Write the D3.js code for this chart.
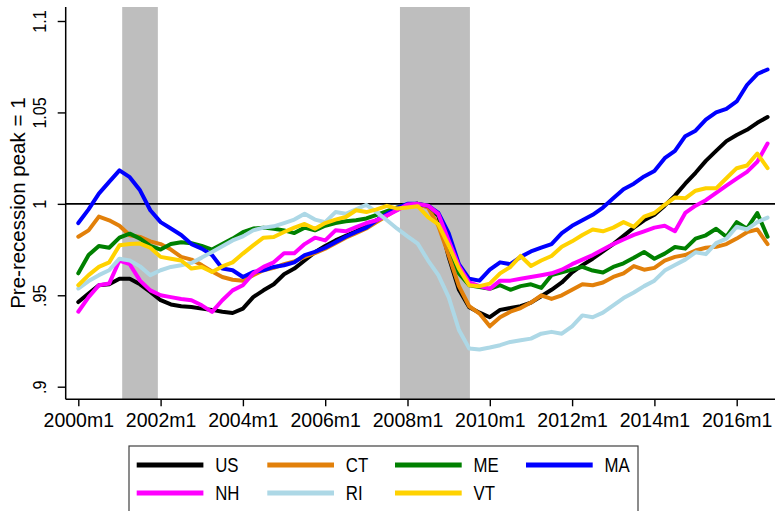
<!DOCTYPE html>
<html>
<head>
<meta charset="utf-8">
<script src="https://cdn.jsdelivr.net/npm/d3@7"></script>
<style>
  body { margin: 0; background: #fff; }
  svg { display: block; }
  text { font-family: "Liberation Sans", Arial, Helvetica, sans-serif; fill: #000; }
</style>
</head>
<body>
<svg id="chart" width="775" height="511"></svg>
<script>
// Employment relative to the pre-recession peak, sampled every 3 months from 2000m1 (index 0) to 2016m10.
const monthStep = 3;

const us = [0.9463,0.951,0.9555,0.956,0.959,0.959,0.956,0.9518,0.9473,0.945,0.944,
  0.9436,0.9427,0.942,0.941,0.9403,0.9427,0.949,0.9527,0.956,0.9615,0.9646,0.969,
  0.9735,0.977,0.980,0.9825,0.985,0.988,0.991,0.994,0.997,0.9995,1.0,0.9985,
  0.9935,0.971,0.953,0.9435,0.9405,0.938,0.942,0.943,0.944,0.946,0.9495,0.953,
  0.957,0.9625,0.9665,0.970,0.974,0.978,0.9825,0.987,0.991,0.994,0.999,1.0045,
  1.011,1.017,1.0235,1.029,1.0343,1.0377,1.0405,1.0443,1.0475];

const ct = [0.982,0.9855,0.993,0.991,0.988,0.9828,0.9819,0.9795,0.978,0.975,0.971,
  0.9695,0.9665,0.963,0.960,0.9585,0.958,0.961,0.9637,0.965,0.967,0.9685,0.971,
  0.973,0.9755,0.9785,0.9815,0.984,0.9865,0.990,0.9935,0.997,0.9995,1.0,0.998,
  0.988,0.972,0.955,0.944,0.940,0.933,0.938,0.941,0.943,0.946,0.950,0.948,
  0.950,0.953,0.956,0.9555,0.957,0.960,0.962,0.966,0.964,0.965,0.969,0.971,
  0.972,0.9745,0.976,0.9765,0.978,0.981,0.9845,0.986,0.978];

const me = [0.962,0.972,0.977,0.976,0.9815,0.9837,0.981,0.977,0.975,0.978,0.979,
  0.9785,0.977,0.975,0.978,0.981,0.9845,0.9865,0.987,0.9864,0.9855,0.984,0.987,
  0.9855,0.988,0.9895,0.9905,0.991,0.992,0.994,0.996,0.998,0.9995,1.0,0.999,
  0.994,0.978,0.962,0.9555,0.9545,0.9535,0.9555,0.953,0.955,0.956,0.954,0.961,
  0.9625,0.964,0.9655,0.9635,0.9625,0.9655,0.9675,0.9705,0.9737,0.970,0.9728,0.9764,
  0.9755,0.981,0.9828,0.9864,0.982,0.990,0.9864,0.995,0.982];

const ma = [0.9895,0.997,1.0056,1.012,1.0183,1.0146,1.0074,0.9965,0.990,0.9865,0.983,
  0.978,0.9755,0.972,0.9646,0.9637,0.960,0.9627,0.9637,0.9655,0.9664,0.968,0.972,
  0.9737,0.976,0.979,0.982,0.9846,0.987,0.991,0.9945,0.9978,1.0,1.0,0.999,
  0.995,0.984,0.967,0.959,0.958,0.964,0.968,0.967,0.971,0.974,0.976,0.978,
  0.984,0.988,0.991,0.994,0.998,1.003,1.008,1.011,1.015,1.018,1.025,1.029,
  1.037,1.040,1.046,1.050,1.052,1.056,1.065,1.071,1.0735];

const nh = [0.941,0.949,0.9555,0.9564,0.969,0.967,0.958,0.9527,0.950,0.949,0.948,
  0.9473,0.9445,0.9409,0.9473,0.9527,0.9555,0.9619,0.9655,0.968,0.973,0.973,0.978,
  0.9815,0.980,0.9855,0.985,0.9873,0.9895,0.991,0.9937,0.9965,0.9997,1.0,0.999,
  0.9945,0.980,0.966,0.957,0.955,0.9535,0.958,0.958,0.959,0.960,0.961,0.962,
  0.964,0.967,0.9695,0.972,0.975,0.978,0.9805,0.983,0.985,0.987,0.988,0.985,
  0.995,0.999,1.002,1.006,1.010,1.0138,1.0175,1.023,1.033];

const ri = [0.9537,0.9578,0.961,0.9637,0.970,0.969,0.9658,0.961,0.9637,0.9655,0.9664,
  0.9677,0.9706,0.9737,0.9768,0.980,0.9822,0.9855,0.987,0.9877,0.9895,0.9914,0.9946,
  0.9914,0.990,0.9955,0.9946,0.997,0.9995,0.9955,0.991,0.9864,0.9822,0.9782,0.969,
  0.961,0.949,0.931,0.9209,0.9203,0.9214,0.9227,0.9245,0.9254,0.9263,0.929,0.930,
  0.929,0.933,0.939,0.938,0.9405,0.9445,0.9485,0.9515,0.955,0.958,0.9635,0.9665,
  0.9695,0.9735,0.9725,0.9785,0.981,0.9875,0.986,0.990,0.9925];

const vt = [0.9555,0.961,0.9655,0.968,0.9773,0.978,0.9783,0.976,0.971,0.970,0.969,
  0.9646,0.9655,0.9627,0.9658,0.968,0.9728,0.9773,0.9815,0.9819,0.9846,0.987,0.989,
  0.9864,0.9895,0.9914,0.9928,0.9965,0.9955,0.997,0.9989,0.9974,0.998,0.9987,0.9928,
  0.9888,0.9773,0.9646,0.9555,0.955,0.9564,0.962,0.9655,0.9715,0.966,0.969,0.9715,
  0.9765,0.9795,0.983,0.986,0.985,0.987,0.990,0.9875,0.993,0.995,0.9995,1.0035,
  1.003,1.0072,1.0085,1.0085,1.014,1.0195,1.021,1.0275,1.0195];

const seriesNames = ["US", "CT", "ME", "MA", "NH", "RI", "VT"];
const seriesValues = [us, ct, me, ma, nh, ri, vt];
const seriesColors = ["#000000", "#e2800a", "#008000", "#0000ff", "#ff00ff", "#add8e6", "#ffd200"];

// Recession periods as month indices from 2000m1 (2001m3-2001m11, 2007m12-2009m6)
const recessions = [[14, 22], [95, 113]];

const xTickMonths = [0, 24, 48, 72, 96, 120, 144, 168, 192];
const xTickLabels = ["2000m1", "2002m1", "2004m1", "2006m1", "2008m1", "2010m1", "2012m1", "2014m1", "2016m1"];
const yTicks = [0.9, 0.95, 1, 1.05, 1.1];
const yTickLabels = [".9", ".95", "1", "1.05", "1.1"];

const svg = d3.select("#chart");
const plot = { left: 65.7, right: 775, top: 7, bottom: 399.3 };

const x = d3.scaleLinear().domain([0, 192]).range([78.3, 736.7]);
const y = d3.scaleLinear().domain([0.9, 1.1]).range([386.7, 21]);

// shaded recessions
svg.append("g").selectAll("rect").data(recessions).join("rect")
  .attr("x", d => x(d[0] - 1.2))
  .attr("width", d => x(d[1] + 1.2) - x(d[0] - 1.2))
  .attr("y", plot.top)
  .attr("height", plot.bottom - plot.top)
  .attr("fill", "#bebebe");

// reference line at the pre-recession peak
svg.append("line")
  .attr("x1", plot.left).attr("x2", plot.right)
  .attr("y1", y(1)).attr("y2", y(1))
  .attr("stroke", "#000").attr("stroke-width", 1.6);

// series
const line = d3.line()
  .x((d, i) => x(i * monthStep))
  .y(d => y(d));

svg.append("g").selectAll("path").data(seriesValues).join("path")
  .attr("d", d => line(d))
  .attr("fill", "none")
  .attr("stroke", (d, i) => seriesColors[i])
  .attr("stroke-width", 4)
  .attr("stroke-linejoin", "round")
  .attr("stroke-linecap", "round");

// y axis
const yAxis = svg.append("g")
  .attr("transform", `translate(${plot.left},0)`)
  .call(d3.axisLeft(y).tickValues(yTicks).tickFormat((d, i) => yTickLabels[i]).tickSize(8).tickSizeOuter(0));
yAxis.select(".domain").remove();
yAxis.selectAll(".tick line").attr("stroke", "#000").attr("stroke-width", 1.4);
yAxis.selectAll(".tick text")
  .attr("x", 0).attr("y", 0).attr("dy", 0)
  .attr("text-anchor", "middle")
  .attr("transform", "translate(-19.5,0) rotate(-90) scale(0.92,1.08)")
  .style("font-size", "17.5px");

// x axis
const xAxis = svg.append("g")
  .attr("transform", `translate(0,${plot.bottom})`)
  .call(d3.axisBottom(x).tickValues(xTickMonths).tickFormat((d, i) => xTickLabels[i]).tickSize(7).tickSizeOuter(0));
xAxis.select(".domain").remove();
xAxis.selectAll(".tick line").attr("stroke", "#000").attr("stroke-width", 1.4);
xAxis.selectAll(".tick text")
  .attr("y", 27.5).attr("dy", 0)
  .style("font-size", "19.5px");

// axis lines
svg.append("line")
  .attr("x1", plot.left).attr("x2", plot.left)
  .attr("y1", plot.top).attr("y2", plot.bottom)
  .attr("stroke", "#000").attr("stroke-width", 1.5);
svg.append("line")
  .attr("x1", plot.left).attr("x2", plot.right)
  .attr("y1", plot.bottom).attr("y2", plot.bottom)
  .attr("stroke", "#000").attr("stroke-width", 1.5);

// y axis title
svg.append("text")
  .attr("transform", `translate(25,${(plot.top + plot.bottom) / 2}) rotate(-90)`)
  .attr("text-anchor", "middle")
  .style("font-size", "20.5px")
  .text("Pre-recession peak = 1");

// legend
const legend = svg.append("g");
legend.append("rect")
  .attr("x", 129).attr("y", 446)
  .attr("width", 509).attr("height", 80)
  .attr("fill", "#fff").attr("stroke", "#404040").attr("stroke-width", 1.2);

const colX = [136.7, 267.3, 395, 526];
const rowY = [465, 493];
const items = legend.selectAll("g.item").data(seriesNames).join("g")
  .attr("class", "item")
  .attr("transform", (d, i) => `translate(${colX[i % 4]},${rowY[Math.floor(i / 4)]})`);
items.append("line")
  .attr("x1", 0).attr("x2", 66.7)
  .attr("stroke", (d, i) => seriesColors[i])
  .attr("stroke-width", 5);
items.append("text")
  .attr("transform", "translate(78.5,0) scale(0.82,1)")
  .attr("dy", "0.36em")
  .style("font-size", "20.5px")
  .text(d => d);
</script>
</body>
</html>
